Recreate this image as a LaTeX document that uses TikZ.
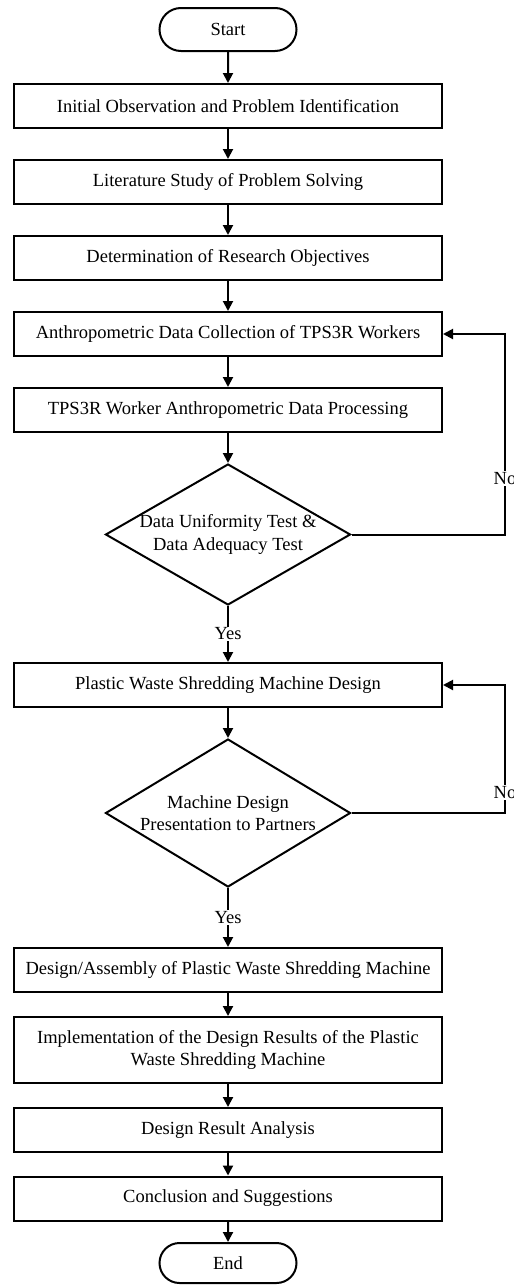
\documentclass[tikz,border=0pt]{standalone}
\usepackage{fontspec}
\setmainfont{Liberation Serif}
\usetikzlibrary{shapes.geometric,shapes.misc,arrows.meta}
\begin{document}
\begin{tikzpicture}[x=1pt,y=-1pt,
  every node/.style={font=\fontsize{18.5}{22.5}\selectfont},
  stepbox/.style={draw,line width=2pt,rectangle,minimum width=428pt,minimum height=44pt,inner sep=2pt,align=center},
  termbox/.style={draw,line width=2pt,rounded rectangle,minimum width=141pt,minimum height=43pt,inner sep=2pt},
  decision/.style={draw,line width=2pt,diamond,minimum width=245pt,inner sep=0pt},
  flow/.style={line width=2pt,-{Triangle[length=10pt,width=10pt]}},
  lbl/.style={fill=white,inner sep=1pt}
]
\useasboundingbox (0,0) rectangle (514,1285);
\node[termbox] (start) at (228,29.5) {Start};
\node[stepbox] (b1) at (228,106) {Initial Observation and Problem Identification};
\node[stepbox] (b2) at (228,182) {Literature Study of Problem Solving};
\node[stepbox] (b3) at (228,258) {Determination of Research Objectives};
\node[stepbox] (b4) at (228,334) {Anthropometric Data Collection of TPS3R Workers};
\node[stepbox] (b5) at (228,410) {TPS3R Worker Anthropometric Data Processing};
\node[decision,minimum height=141pt] (d1) at (228,534.5) {};
\node[align=center] (t1) at (d1) {Data Uniformity Test \&\\Data Adequacy Test};
\node[stepbox] (b6) at (228,685) {Plastic Waste Shredding Machine Design};
\node[decision,minimum height=148pt] (d2) at (228,813) {};
\node[align=center] (t2) at (d2) {Machine Design\\Presentation to Partners};
\node[stepbox] (b7) at (228,970) {Design/Assembly of Plastic Waste Shredding Machine};
\node[stepbox,minimum height=66pt] (b8) at (228,1050) {Implementation of the Design Results of the Plastic\\Waste Shredding Machine};
\node[stepbox] (b9) at (228,1130) {Design Result Analysis};
\node[stepbox] (b10) at (228,1198.5) {Conclusion and Suggestions};
\node[termbox,minimum height=40pt] (end) at (228,1263) {End};

\draw[flow] (start) -- (b1);
\draw[flow] (b1) -- (b2);
\draw[flow] (b2) -- (b3);
\draw[flow] (b3) -- (b4);
\draw[flow] (b4) -- (b5);
\draw[flow] (b5) -- (d1.north);
\draw[flow] (d1.south) -- node[lbl]{Yes} (b6.north);
\draw[flow] (b6) -- (d2.north);
\draw[flow] (d2.south) -- node[lbl]{Yes} (b7.north);
\draw[flow] (b7) -- (b8);
\draw[flow] (b8) -- (b9);
\draw[flow] (b9) -- (b10);
\draw[flow] (b10) -- (end);

\coordinate (n1) at (505,534.5);
\draw[flow] (d1.east) -- (n1) -- node[lbl,pos=0.28]{No} (n1 |- b4.east) -- (b4.east);
\coordinate (n2) at (505,813);
\draw[flow] (d2.east) -- (n2) -- node[lbl,pos=0.16]{No} (n2 |- b6.east) -- (b6.east);
\end{tikzpicture}
\end{document}
